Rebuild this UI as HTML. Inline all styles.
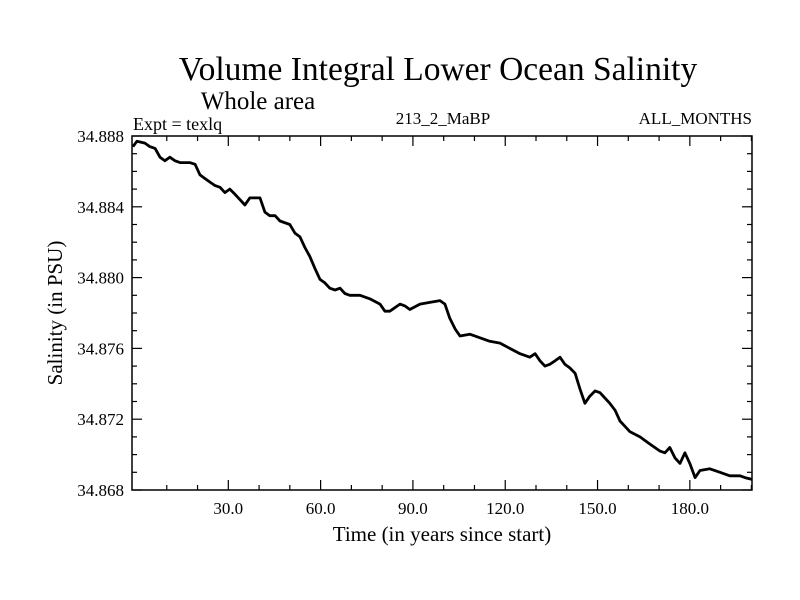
<!DOCTYPE html>
<html><head><meta charset="utf-8"><style>
body{margin:0;background:#fff;}
svg{display:block;font-family:"Liberation Serif",serif;}
</style></head><body>
<svg id="chart" width="800" height="600">
<text x="438" y="80" font-size="33.5" text-anchor="middle">Volume Integral Lower Ocean Salinity</text>
<text x="258" y="109" font-size="25" text-anchor="middle">Whole area</text>
<text x="133" y="130" font-size="18">Expt = texlq</text>
<text x="443" y="124" font-size="17" text-anchor="middle">213_2_MaBP</text>
<text x="752" y="124" font-size="17" text-anchor="end">ALL_MONTHS</text>
<text x="442" y="541" font-size="21" text-anchor="middle">Time (in years since start)</text>
<text transform="translate(62,313) rotate(-90)" font-size="21" text-anchor="middle">Salinity (in PSU)</text>
<g id="axes"></g>
<path id="series" fill="none" stroke="#000" stroke-width="2.8" stroke-linejoin="round"></path>
<rect x="132" y="136" width="620" height="354" fill="none" stroke="#000" stroke-width="1.5"></rect>
</svg>
<script>
const years=[-1,0.3,2.9,4.5,6.2,7.8,9.4,11,12.7,14.3,17.5,19.2,20.8,22.4,24,25.7,27.3,28.9,30.5,32.2,33.8,35.4,37,38.7,40.3,41.9,43.5,45.2,46.8,50,51.7,53.3,54.9,56.5,58.2,59.8,61.4,63,64.7,66.3,67.9,69.5,72.8,76,79.3,80.9,82.5,85.8,87.4,89,92.3,95.5,98.8,100.4,102,103.7,105.3,108.5,111.8,115,118.3,121.5,124.8,128,129.7,131.3,132.9,134.5,136.2,137.8,139.4,141,142.7,144.3,145.9,147.5,149.2,150.8,152.4,154,155.7,157.3,158.9,160.5,163.8,167,170.3,171.9,173.5,175.2,176.8,178.4,180,181.7,183.3,186.5,189.8,193,196.3,197.9,200.2];
const salinity=[34.8874,34.8877,34.8876,34.8874,34.8873,34.8868,34.8866,34.8868,34.8866,34.8865,34.8865,34.8864,34.8858,34.8856,34.8854,34.8852,34.8851,34.8848,34.8850,34.8847,34.8844,34.8841,34.8845,34.8845,34.8845,34.8837,34.8835,34.8835,34.8832,34.8830,34.8825,34.8823,34.8817,34.8812,34.8805,34.8799,34.8797,34.8794,34.8793,34.8794,34.8791,34.8790,34.8790,34.8788,34.8785,34.8781,34.8781,34.8785,34.8784,34.8782,34.8785,34.8786,34.8787,34.8785,34.8777,34.8771,34.8767,34.8768,34.8766,34.8764,34.8763,34.8760,34.8757,34.8755,34.8757,34.8753,34.8750,34.8751,34.8753,34.8755,34.8751,34.8749,34.8746,34.8737,34.8729,34.8733,34.8736,34.8735,34.8732,34.8729,34.8725,34.8719,34.8716,34.8713,34.8710,34.8706,34.8702,34.8701,34.8704,34.8698,34.8695,34.8701,34.8695,34.8687,34.8691,34.8692,34.8690,34.8688,34.8688,34.8687,34.8686];
const xTickLabels=[30,60,90,120,150,180];
const yTickLabels=[34.868,34.872,34.876,34.880,34.884,34.888];
const X0=132,X1=752,Y0=136,Y1=490,XMIN=-1.3,XMAX=200.2,YMIN=34.868,YMAX=34.888;
const sx=v=>X0+(v-XMIN)/(XMAX-XMIN)*(X1-X0);
const sy=v=>Y1-(v-YMIN)/(YMAX-YMIN)*(Y1-Y0);
const NS="http://www.w3.org/2000/svg";
const g=document.getElementById('axes');
function line(x1,y1,x2,y2,name){const l=document.createElementNS(NS,'line');
l.setAttribute('x1',x1);l.setAttribute('y1',y1);l.setAttribute('x2',x2);l.setAttribute('y2',y2);
l.setAttribute('stroke','#000');l.setAttribute('stroke-width','1.2');


g.appendChild(l);}
for(let t=10;t<=200;t+=10){const x=sx(t);const len=(t%30===0)?10:5;
line(x,Y1,x,Y1-len,'x-tick');line(x,Y0,x,Y0+len,'x-tick-top');}
for(let i=0;i<=20;i++){const v=YMIN+i*0.001;const y=sy(v);const len=(i%4===0)?10:5;
line(X0,y,X0+len,y,'y-tick');line(X1,y,X1-len,y,'y-tick-right');}
xTickLabels.forEach(t=>{const e=document.createElementNS(NS,'text');
e.setAttribute('x',sx(t));e.setAttribute('y',Y1+24);e.setAttribute('font-size','17');e.setAttribute('text-anchor','middle');
e.textContent=t.toFixed(1);


g.appendChild(e);});
yTickLabels.forEach(v=>{const e=document.createElementNS(NS,'text');
e.setAttribute('x',X0-8);e.setAttribute('y',sy(v)+6);e.setAttribute('font-size','17');e.setAttribute('text-anchor','end');
e.textContent=v.toFixed(3);


g.appendChild(e);});
let d='';years.forEach((t,i)=>{d+=(i?'L':'M')+Math.max(X0,sx(t)).toFixed(1)+','+sy(salinity[i]).toFixed(1);});
document.getElementById('series').setAttribute('d',d);
</script>
</body></html>
